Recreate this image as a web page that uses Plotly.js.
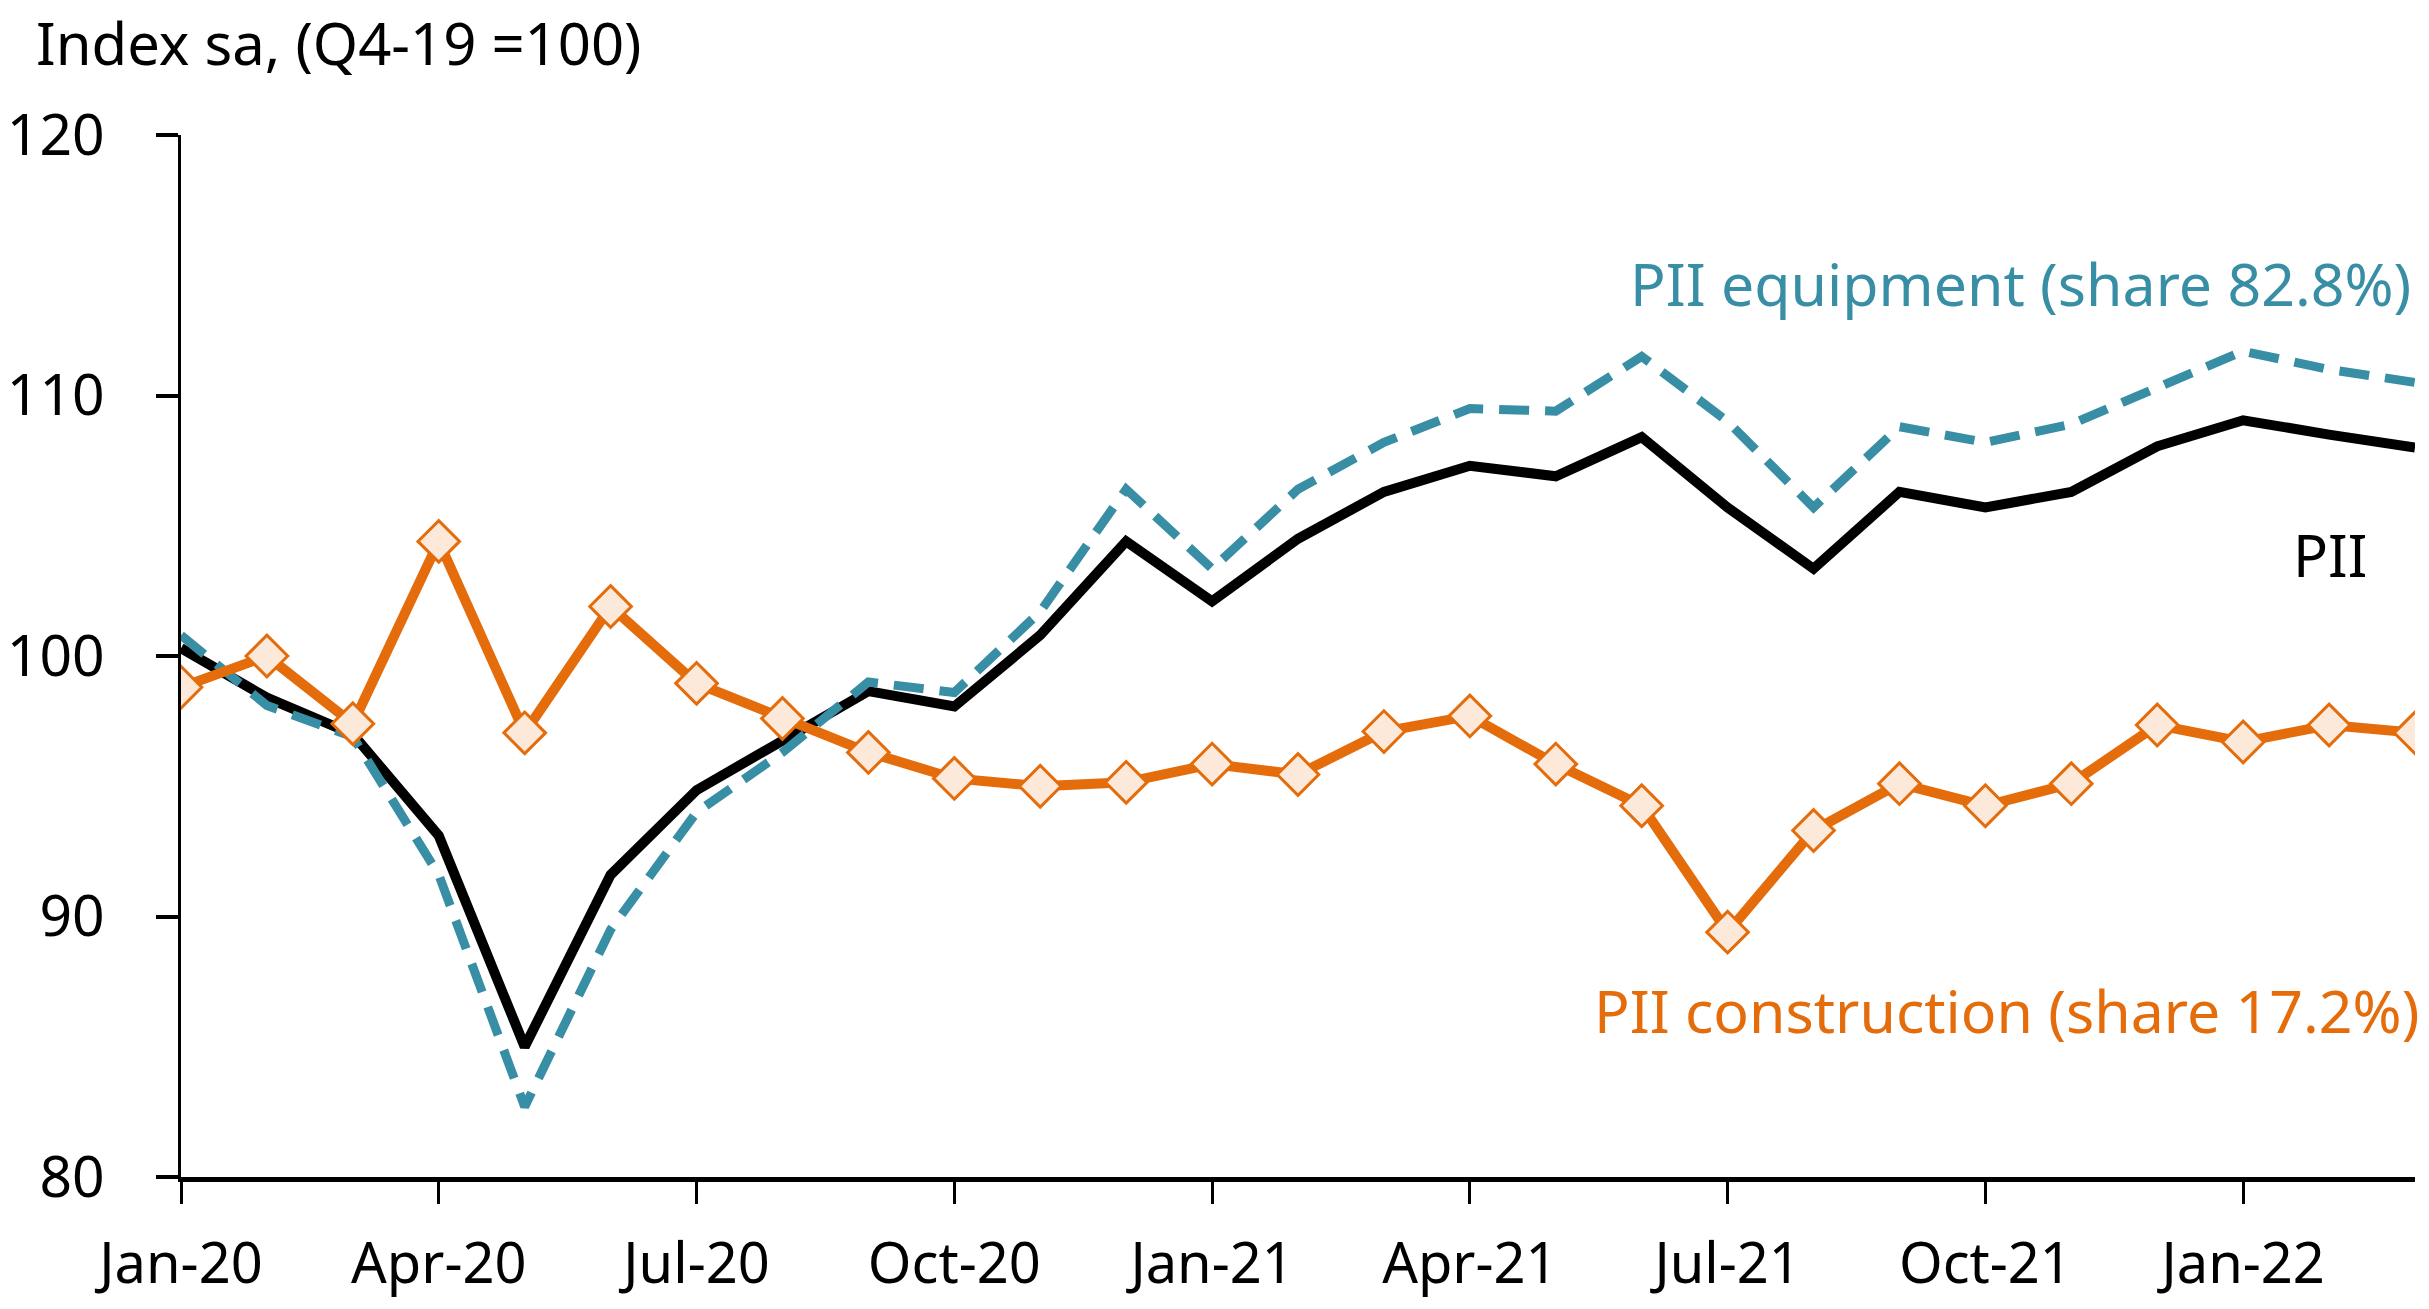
<!DOCTYPE html>
<html>
<head>
<meta charset="utf-8">
<script src="https://cdn.plot.ly/plotly-3.0.1.min.js"></script>
<style>
  html, body { margin: 0; padding: 0; background: #ffffff; }
  #chart { width: 2429px; height: 1309px; }
</style>
</head>
<body>
<div id="chart"></div>
<script>
// ---- Data ----
const months = [
  "Jan-20","Feb-20","Mar-20","Apr-20","May-20","Jun-20","Jul-20","Aug-20","Sep-20",
  "Oct-20","Nov-20","Dec-20","Jan-21","Feb-21","Mar-21","Apr-21","May-21","Jun-21",
  "Jul-21","Aug-21","Sep-21","Oct-21","Nov-21","Dec-21","Jan-22","Feb-22","Mar-22"
];
const tickLabels = ["Jan-20","Apr-20","Jul-20","Oct-20","Jan-21","Apr-21","Jul-21","Oct-21","Jan-22"];

const pii = [
  100.3, 98.4, 97.0, 93.1, 85.0, 91.6, 94.85, 96.75, 98.65,
  98.06, 100.8, 104.4, 102.1, 104.5, 106.3, 107.3, 106.9, 108.4,
  105.7, 103.35, 106.3, 105.7, 106.3, 108.05, 109.05, 108.5, 108.0
];
const piiEquipment = [
  100.8, 98.1, 96.9, 91.6, 82.7, 89.5, 94.0, 96.3, 99.0,
  98.6, 101.7, 106.4, 103.35, 106.4, 108.2, 109.5, 109.4, 111.5,
  109.0, 105.7, 108.8, 108.2, 108.9, 110.3, 111.7, 111.0, 110.5
];
const piiConstruction = [
  98.8, 100.0, 97.4, 104.4, 97.05, 101.9, 98.95, 97.6, 96.3,
  95.3, 95.0, 95.15, 95.85, 95.45, 97.1, 97.7, 95.85, 94.25,
  89.4, 93.3, 95.1, 94.25, 95.1, 97.35, 96.7, 97.35, 97.05
];

// ---- Styles ----
const FONT = "Noto Sans, Open Sans, Liberation Sans, sans-serif";
const TEAL = "#388EA4";
const ORANGE = "#E46C0A";
const PEACH = "#FDE9D9";

const traces = [
  {
    x: months, y: pii, type: "scatter", mode: "lines", name: "PII",
    line: { color: "#000000", width: 10 }, hoverinfo: "x+y"
  },
  {
    x: months, y: piiEquipment, type: "scatter", mode: "lines", name: "PII equipment",
    line: { color: TEAL, width: 9, dash: "30px,16px" }, hoverinfo: "x+y"
  },
  {
    x: months, y: piiConstruction, type: "scatter", mode: "lines+markers", name: "PII construction",
    line: { color: ORANGE, width: 10 },
    marker: { symbol: "diamond", size: 32, color: PEACH, line: { color: ORANGE, width: 3 } },
    hoverinfo: "x+y"
  }
];

const layout = {
  width: 2429, height: 1309,
  paper_bgcolor: "#ffffff", plot_bgcolor: "rgba(0,0,0,0)",
  margin: { l: 181, r: 14, t: 135, b: 132, pad: 0 },
  showlegend: false,
  font: { family: FONT, size: 56, color: "#000000" },
  xaxis: {
    type: "category",
    categoryorder: "array", categoryarray: months,
    range: [0, months.length - 1],
    tickmode: "array", tickvals: tickLabels, ticktext: tickLabels,
    ticks: "outside", ticklen: 22, tickwidth: 3, tickcolor: "#000000",
    showline: true, linecolor: "#000000", linewidth: 5,
    showgrid: false, zeroline: false,
    ticklabelstandoff: 12,
    tickfont: { family: FONT, size: 56, color: "#000000" },
    fixedrange: true
  },
  yaxis: {
    range: [80, 120],
    tickmode: "array", tickvals: [80, 90, 100, 110, 120],
    ticks: "outside", ticklen: 22, tickwidth: 4, tickcolor: "#000000",
    showline: true, linecolor: "#000000", linewidth: 3,
    showgrid: false, zeroline: false,
    ticklabelstandoff: 40,
    tickfont: { family: FONT, size: 57, color: "#000000" },
    fixedrange: true
  },
  annotations: [
    {
      text: "Index sa, (Q4-19 =100)", xref: "paper", yref: "paper",
      x: -0.0658, y: 1.089, xanchor: "left", yanchor: "middle", showarrow: false,
      font: { family: FONT, size: 58, color: "#000000" }
    },
    {
      text: "PII equipment (share 82.8%)", xref: "paper", yref: "paper",
      x: 0.999, y: 0.858, xanchor: "right", yanchor: "middle", showarrow: false,
      font: { family: FONT, size: 59, color: TEAL }
    },
    {
      text: "PII", xref: "paper", yref: "paper",
      x: 0.962, y: 0.597, xanchor: "center", yanchor: "middle", showarrow: false,
      font: { family: FONT, size: 58, color: "#000000" }
    },
    {
      text: "PII construction (share 17.2%)", xref: "paper", yref: "paper",
      x: 1.0027, y: 0.160, xanchor: "right", yanchor: "middle", showarrow: false,
      font: { family: FONT, size: 59, color: ORANGE }
    }
  ]
};

Plotly.newPlot("chart", traces, layout, { displayModeBar: false, staticPlot: true });
</script>
</body>
</html>
